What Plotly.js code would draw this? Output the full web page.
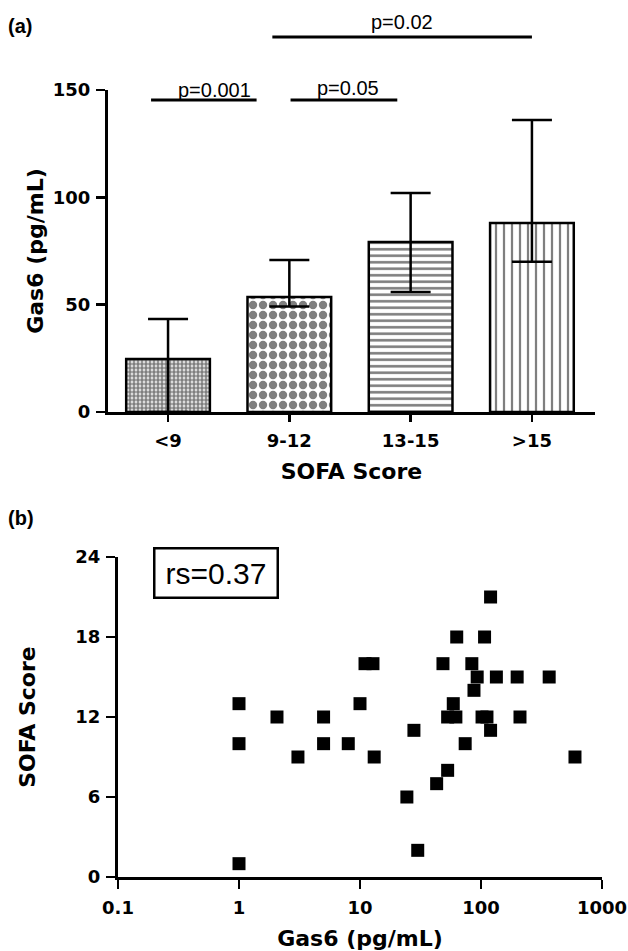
<!DOCTYPE html>
<html>
<head>
<meta charset="utf-8">
<script src="https://cdn.plot.ly/plotly-3.0.1.min.js"></script>
<style>html,body{margin:0;padding:0;background:#fff;}#chart{width:628px;height:951px;}</style>
</head>
<body>
<div id="chart"></div>
<script>
// ---- Panel (a) data ----
const categories = ['<9', '9-12', '13-15', '>15'];
const gas6Mean = [24.7, 53.6, 79.2, 88];
const gas6ErrUp = [18.6, 17.2, 22.8, 48];
const gas6ErrDown = [24.7, 4.5, 23.3, 18];
const patternShapes = ['.', '.', '-', '|'];
const pValueLabels = ['p=0.001', 'p=0.05', 'p=0.02'];

// ---- Panel (b) data ----
const gas6Values = [1, 1, 1, 2.06, 3.07, 5, 5, 8, 10, 11, 12.8, 13.1, 24.4, 27.9, 30, 43, 48.5, 53, 63, 59, 53, 62, 74, 84, 93, 87.5, 102, 107, 120, 120, 112, 134, 199, 210, 366, 598];
const sofaValues = [13, 10, 1, 12, 9, 12, 10, 10, 13, 16, 16, 9, 6, 11, 2, 7, 16, 8, 18, 13, 12, 12, 10, 16, 15, 14, 12, 18, 21, 11, 12, 15, 15, 12, 15, 9];
const logTickVals = [0.1, 1, 10, 100, 1000];
const logTickText = ['0.1', '1', '10', '100', '1000'];
const rsLabel = 'rs=0.37';

const W = 628, H = 951;
const px = v => v / W;
const py = v => 1 - v / H;

const tickFont = {family: 'DejaVu Sans', size: 18, color: '#000', weight: 'bold'};
const titleFont = {family: 'DejaVu Sans', size: 22, color: '#000', weight: 'bold'};

const bars = {
  type: 'bar',
  x: categories,
  y: gas6Mean,
  xaxis: 'x', yaxis: 'y',
  width: 0.69,
  marker: {
    color: '#fff',
    line: {color: '#000', width: 2.5},
    pattern: {
      shape: patternShapes,
      size: [4, 10, 6.5, 8],
      solidity: [0.7, 0.55, 0.4, 0.28],
      fgcolor: '#000',
      bgcolor: '#fff',
      fillmode: 'overlay'
    }
  },
  error_y: {
    type: 'data', symmetric: false,
    array: gas6ErrUp, arrayminus: gas6ErrDown,
    color: '#000', thickness: 2.5, width: 20
  },
  hoverinfo: 'none'
};

const scatter = {
  type: 'scatter', mode: 'markers',
  x: gas6Values, y: sofaValues,
  xaxis: 'x2', yaxis: 'y2',
  marker: {symbol: 'square', size: 13, color: '#000'},
  cliponaxis: false,
  hoverinfo: 'none'
};

const layout = {
  width: W, height: H,
  margin: {l: 0, r: 0, t: 0, b: 0},
  paper_bgcolor: '#fff', plot_bgcolor: '#fff',
  showlegend: false,
  xaxis: {
    domain: [px(108), px(595)],
    anchor: 'y',
    type: 'category',
    range: [-0.495, 3.52],
    showline: true, linecolor: '#000', linewidth: 3,
    ticks: 'outside', ticklen: 7, tickwidth: 2.5, tickcolor: '#000',
    ticklabelstandoff: 3,
    showgrid: false, zeroline: false,
    tickfont: tickFont,
    title: {text: 'SOFA Score', font: titleFont, standoff: 15},
    automargin: false, fixedrange: true
  },
  yaxis: {
    domain: [py(412), py(90)],
    anchor: 'x',
    range: [0, 150],
    tickvals: [0, 50, 100, 150],
    showline: true, linecolor: '#000', linewidth: 3,
    ticks: 'outside', ticklen: 9, tickwidth: 2.5, tickcolor: '#000',
    ticklabelstandoff: 2,
    showgrid: false, zeroline: false,
    tickfont: tickFont,
    title: {text: 'Gas6 (pg/mL)', font: titleFont, standoff: 4},
    automargin: false, fixedrange: true
  },
  xaxis2: {
    domain: [px(118), px(602)],
    anchor: 'y2',
    type: 'log',
    range: [-1, 3],
    tickvals: logTickVals, ticktext: logTickText,
    showline: true, linecolor: '#000', linewidth: 3,
    ticks: 'outside', ticklen: 9, tickwidth: 2.5, tickcolor: '#000',
    ticklabelstandoff: 3,
    showgrid: false, zeroline: false,
    tickfont: tickFont,
    title: {text: 'Gas6 (pg/mL)', font: titleFont, standoff: 15},
    automargin: false, fixedrange: true
  },
  yaxis2: {
    domain: [py(877), py(557)],
    anchor: 'x2',
    range: [0, 24],
    tickvals: [0, 6, 12, 18, 24],
    showline: true, linecolor: '#000', linewidth: 3,
    ticks: 'outside', ticklen: 9, tickwidth: 2.5, tickcolor: '#000',
    ticklabelstandoff: 2,
    showgrid: false, zeroline: false,
    tickfont: tickFont,
    title: {text: 'SOFA Score', font: titleFont, standoff: 34},
    automargin: false, fixedrange: true
  },
  shapes: [
    {type: 'line', xref: 'x', yref: 'paper', x0: -0.14, x1: 0.73, y0: py(100), y1: py(100), line: {color: '#000', width: 3}},
    {type: 'line', xref: 'x', yref: 'paper', x0: 1.01, x1: 1.89, y0: py(100), y1: py(100), line: {color: '#000', width: 3}},
    {type: 'line', xref: 'x', yref: 'paper', x0: 0.86, x1: 3.0, y0: py(37), y1: py(37), line: {color: '#000', width: 3}}
  ],
  annotations: [
    {text: '(a)', xref: 'paper', yref: 'paper', x: px(6), y: py(26), xanchor: 'left', yanchor: 'middle', showarrow: false,
     font: {family: 'Liberation Sans', size: 20, color: '#000', weight: 'bold'}},
    {text: '(b)', xref: 'paper', yref: 'paper', x: px(6), y: py(518), xanchor: 'left', yanchor: 'middle', showarrow: false,
     font: {family: 'Liberation Sans', size: 20, color: '#000', weight: 'bold'}},
    {text: pValueLabels[0], xref: 'x', yref: 'paper', x: 0.38, y: py(90), xanchor: 'center', yanchor: 'middle', showarrow: false,
     font: {family: 'Liberation Sans', size: 20, color: '#000'}},
    {text: pValueLabels[1], xref: 'x', yref: 'paper', x: 1.48, y: py(88), xanchor: 'center', yanchor: 'middle', showarrow: false,
     font: {family: 'Liberation Sans', size: 20, color: '#000'}},
    {text: pValueLabels[2], xref: 'x', yref: 'paper', x: 1.93, y: py(22), xanchor: 'center', yanchor: 'middle', showarrow: false,
     font: {family: 'Liberation Sans', size: 20, color: '#000'}},
    {text: rsLabel, xref: 'paper', yref: 'paper', x: px(215.5), y: py(572.5), xanchor: 'center', yanchor: 'middle', showarrow: false,
     width: 115, height: 41, borderpad: 3, borderwidth: 2.5, bordercolor: '#000', bgcolor: '#fff',
     font: {family: 'Liberation Sans', size: 30, color: '#000'}}
  ]
};

Plotly.newPlot('chart', [bars, scatter], layout, {staticPlot: true, displayModeBar: false});
</script>
</body>
</html>
